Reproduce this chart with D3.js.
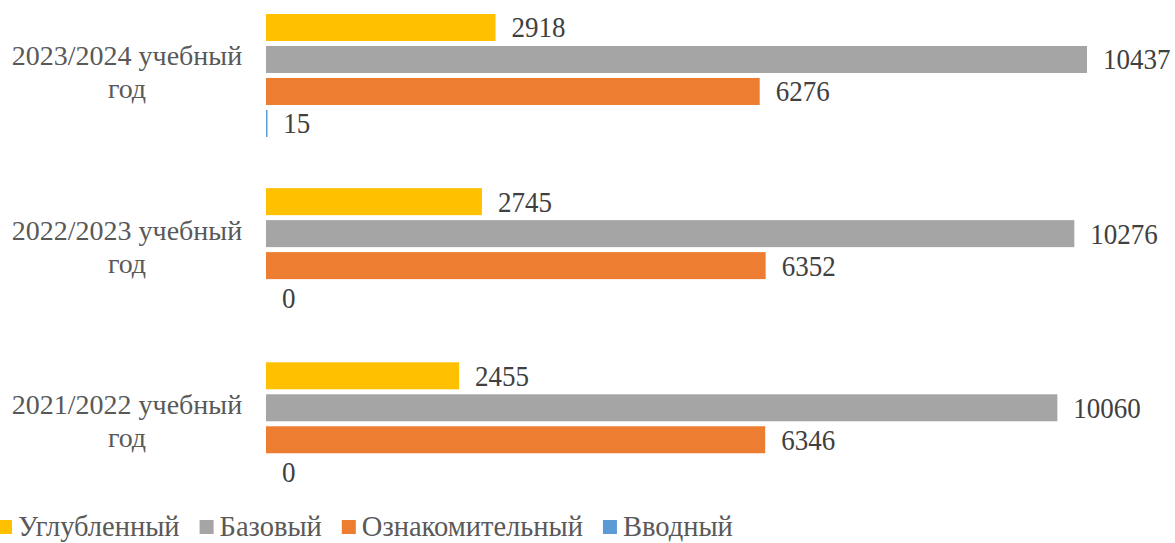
<!DOCTYPE html>
<meta charset="utf-8">
<style>
body { margin: 0; background: #fff; }
text { font-family: "Liberation Serif", "Times New Roman", serif; }
</style>
<body>
<script src="https://cdn.jsdelivr.net/npm/d3@7"></script>
<script>

var width = 1175,
    height = 543;

// data
var years = ["2023/2024 учебный год", "2022/2023 учебный год", "2021/2022 учебный год"];
var series = ["Углубленный", "Базовый", "Ознакомительный", "Вводный"];
var colors = ["#FFC000", "#A5A5A5", "#ED7D31", "#5B9BD5"];
var uglubl = [2918, 2745, 2455];
var bazov = [10437, 10276, 10060];
var oznak = [6276, 6352, 6346];
var vvodn = [15, 0, 0];

var values = [uglubl, bazov, oznak, vvodn];

var data = years.map((y, i) => ({
    year: y,
    items: series.map((s, j) => ({ series: s, value: values[j][i], color: colors[j] }))
}));

var svg = d3.select("body").append("svg")
    .attr("width", width)
    .attr("height", height);

var x = d3.scaleLinear()
    .domain([0, 12000])
    .range([266, 266 + 12000 * 821 / 10437]);

var y0 = d3.scaleBand()
    .domain(years)
    .range([-11.6, -11.6 + 3 * 174.15]);

var y1 = d3.scaleBand()
    .domain(series)
    .range([0, y0.bandwidth()])
    .paddingInner(0.156)
    .paddingOuter(0.8);

var groups = svg.selectAll(".group")
    .data(data)
  .enter().append("g")
    .attr("class", "group")
    .attr("transform", d => "translate(0," + y0(d.year) + ")");

groups.selectAll("rect")
    .data(d => d.items)
  .enter().append("rect")
    .attr("x", x(0))
    .attr("y", d => y1(d.series))
    .attr("width", d => Math.max(x(d.value) - x(0), d.value > 0 ? 1.5 : 0))
    .attr("height", y1.bandwidth())
    .attr("fill", d => d.color);

// value labels
groups.selectAll(".val")
    .data(d => d.items)
  .enter().append("text")
    .attr("class", "val")
    .attr("transform", d => "translate(" + (x(d.value) + 16) + "," + (y1(d.series) + y1.bandwidth() / 2 + 10) + ") scale(0.9,1)")
    .attr("fill", "#404040")
    .style("font-size", "30px")
    .text(d => d.value);

// category labels
groups.append("text")
    .attr("class", "cat")
    .attr("text-anchor", "middle")
    .attr("fill", "#595959")
    .style("font-size", "28px")
    .each(function(d) {
        var parts = d.year.split(" ");
        var mid = y0.bandwidth() / 2;
        d3.select(this).append("tspan")
            .attr("x", 127)
            .attr("y", mid - 10)
            .text(parts[0] + " " + parts[1]);
        d3.select(this).append("tspan")
            .attr("x", 127)
            .attr("y", mid + 23)
            .text(parts[2]);
    });

// legend
var legend = svg.append("g")
    .attr("class", "legend");

var lx = -2;
series.forEach(function(s, i) {
    legend.append("rect")
        .attr("x", lx)
        .attr("y", 520)
        .attr("width", 14)
        .attr("height", 14)
        .attr("fill", colors[i]);
    var t = legend.append("text")
        .attr("x", lx + 20)
        .attr("y", 536)
        .attr("fill", "#595959")
        .style("font-size", "28.5px")
        .text(s);
    lx += 20 + t.node().getComputedTextLength() + 20;
});

</script>
